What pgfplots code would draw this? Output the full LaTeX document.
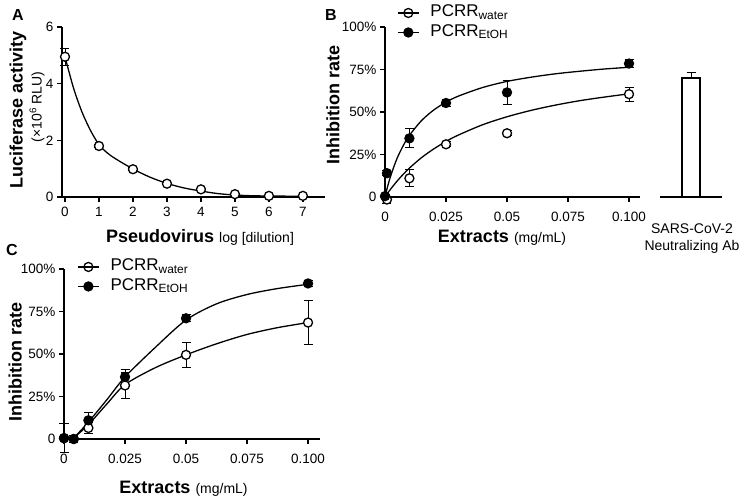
\documentclass[border=0pt]{standalone}
\usepackage{fontspec}
\setmainfont{Liberation Sans}
\usepackage{pgfplots}
\pgfplotsset{compat=1.18}
\pgfplotsset{
  prism/.style={
    scale only axis, anchor=south west,
    axis lines=left, axis line style={-, line width=1.3bp, black},
    tick align=outside, major tick length=5bp,
    every tick/.style={line width=1.3bp, black},
    tick label style={font=\fontsize{13.5bp}{16bp}\selectfont},
    /pgf/number format/assume math mode=true,
    clip=false,
    label style={font=\fontsize{18bp}{20bp}\selectfont\bfseries},
  },
  openm/.style={only marks, mark=*, mark size=4.5bp, mark options={fill=white, draw=black, line width=1.3bp}},
  fillm/.style={only marks, mark=*, mark size=4.5bp, mark options={fill=black, draw=black, line width=1.3bp}},
  ebars/.style={error bars/.cd, y dir=both, y explicit,
    error bar style={line width=0.9bp, black},
    error mark options={rotate=90, mark size=4.5bp, line width=0.9bp, black}},
  fitline/.style={black, line width=1.3bp, smooth, no marks, forget plot},
  leg/.style={legend style={draw=none, fill=none, inner sep=0pt, anchor=north west,
      font=\fontsize{17bp}{20bp}\selectfont, row sep=0pt, legend cell align=left,
      nodes={inner sep=1bp, text height=12.5bp, text depth=5bp},
      /tikz/every odd column/.append style={column sep=10bp}},
    legend image code/.code={\draw[##1] plot coordinates {(10.5bp,0bp)};
      \draw[black, line width=1.3bp] (0bp,0bp) -- (21bp,0bp);}},
}
\begin{document}
\begin{tikzpicture}
\useasboundingbox (0,0) rectangle (747bp,-500bp);
% ---------------- Panel A ----------------
\begin{axis}[prism, at={(62bp,-197bp)}, width=263bp, height=170bp,
  xmin=-0.088, xmax=7.65, ymin=0, ymax=6,
  xtick={0,1,2,3,4,5,6,7}, ytick={0,2,4,6},
  xticklabel style={yshift=-2bp},
  xlabel={Pseudovirus {\mdseries\fontsize{14bp}{16bp}\selectfont log [dilution]}},
  xlabel style={at={(axis description cs:0.525,-0.265)}, anchor=base},
  ylabel={Luciferase activity},
  ylabel style={at={(axis description cs:-0.167,0.512)}, anchor=center},
]
\addplot[fitline] coordinates {(0,4.95) (0.25,3.85) (0.5,3.0) (0.75,2.35) (1,1.85) (1.25,1.55) (1.5,1.34) (2,0.99) (2.5,0.70) (3,0.48) (3.5,0.32) (4,0.21) (4.5,0.12) (5,0.07) (5.5,0.045) (6,0.035) (6.5,0.03) (7,0.03)};
\addplot[openm, ebars] coordinates {(0,4.95) +- (0,0.3) (1,1.8) +- (0,0.05) (2,0.98) +- (0,0.05) (3,0.47) +- (0,0.03) (4,0.27) +- (0,0.03) (5,0.1) +- (0,0.02) (6,0.04) +- (0,0.01) (7,0.04) +- (0,0.01)};
\node[rotate=90, font=\fontsize{14bp}{16bp}\selectfont] at (axis description cs:-0.095,0.53) {(×10\textsuperscript{6} RLU)};
\end{axis}
% ---------------- Panel B ----------------
\begin{axis}[prism, leg, at={(385bp,-197bp)}, width=255bp, height=170bp,
  xmin=0, xmax=0.1045, ymin=0, ymax=100,
  xtick={0,0.025,0.05,0.075,0.1}, xticklabels={0,0.025,0.05,0.075,0.100},
  ytick={0,25,50,75,100}, yticklabels={0,25\%,50\%,75\%,100\%},
  xticklabel style={yshift=-7bp},
  xlabel={Extracts {\mdseries\fontsize{14bp}{16bp}\selectfont (mg/mL)}},
  xlabel style={at={(axis description cs:0.459,-0.27)}, anchor=base},
  ylabel={Inhibition rate},
  ylabel style={at={(axis description cs:-0.204,0.541)}, anchor=center},
  legend style={at={(axis description cs:0.047,1.141)}},
]
\addplot[fitline] coordinates {(0,0) (0.001,2.07) (0.0025,5) (0.005,9.44) (0.0075,13.4) (0.01,17) (0.015,23.2) (0.02,28.3) (0.025,32.7) (0.03,36.4) (0.04,42.5) (0.05,47.2) (0.06,51) (0.07,54.1) (0.08,56.7) (0.09,58.8) (0.1,60.7)};
\addplot[fitline] coordinates {(0,0) (0.001,5.8) (0.0025,13.2) (0.005,22.9) (0.0075,30.3) (0.01,36.25) (0.015,45) (0.02,51.2) (0.025,55.8) (0.03,59.3) (0.04,64.4) (0.05,68) (0.06,70.5) (0.07,72.5) (0.08,74) (0.09,75.3) (0.1,76.3)};
\addplot[openm, ebars] coordinates {(0.0008,-1.5) +- (0,2) (0.01,11) +- (0,5) (0.025,31) +- (0,1.5) (0.05,37.5) +- (0,1.5) (0.1,60.5) +- (0,4)};
\addplot[fillm, ebars] coordinates {(0,0.5) +- (0,1) (0.0008,14) +- (0,1.5) (0.01,34.5) +- (0,5.6) (0.025,55.3) +- (0,2) (0.05,61.5) +- (0,7) (0.1,78.5) +- (0,2.5)};
\legend{PCRR\textsubscript{water}, PCRR\textsubscript{EtOH}}
\end{axis}
% ---------------- Panel B bar ----------------
\begin{axis}[scale only axis, anchor=south west, at={(660bp,-197bp)}, width=62bp, height=170bp,
  xmin=0, xmax=1, ymin=0, ymax=100, clip=false,
  axis x line=bottom, axis y line=none, axis line style={-, line width=1.3bp, black},
  xtick=\empty, ytick=\empty,
  xlabel={SARS-CoV-2\\Neutralizing Ab},
  xlabel style={at={(axis description cs:0.516,-0.312)}, anchor=base, align=center,
    font=\fontsize{14bp}{17bp}\selectfont},
]
\addplot[ybar, bar width=18bp, fill=white, draw=black, line width=1.3bp,
  error bars/.cd, y dir=plus, y explicit,
  error bar style={line width=0.9bp, black},
  error mark options={rotate=90, mark size=4.5bp, line width=0.9bp, black}]
  coordinates {(0.5,70) +- (0,3)};
\end{axis}
% ---------------- Panel C ----------------
\begin{axis}[prism, leg, at={(64bp,-439bp)}, width=256bp, height=170bp,
  xmin=0, xmax=0.1049, ymin=0, ymax=100,
  xtick={0,0.025,0.05,0.075,0.1}, xticklabels={0,0.025,0.05,0.075,0.100},
  ytick={0,25,50,75,100}, yticklabels={0,25\%,50\%,75\%,100\%},
  xticklabel style={yshift=-7bp},
  xlabel={Extracts {\mdseries\fontsize{14bp}{16bp}\selectfont (mg/mL)}},
  xlabel style={at={(axis description cs:0.467,-0.318)}, anchor=base},
  ylabel={Inhibition rate},
  ylabel style={at={(axis description cs:-0.191,0.453)}, anchor=center},
  legend style={at={(axis description cs:0.051,1.0706)}},
]
\addplot[fitline] coordinates {(0,0) (0.004,1) (0.01,8.5) (0.0175,20.5) (0.025,32) (0.0375,42) (0.05,49.5) (0.0625,56) (0.075,61.5) (0.0875,65.5) (0.1,68.5)};
\addplot[fitline] coordinates {(0,0) (0.004,1) (0.01,10) (0.0175,23) (0.025,36.5) (0.0375,54) (0.05,70) (0.0625,79.5) (0.075,85) (0.0875,88.5) (0.1,91)};
\addplot[openm, ebars] coordinates {(0,0.5) +- (0,8.5) (0.004,0) +- (0,2) (0.01,6.5) +- (0,3) (0.025,31.5) +- (0,7.5) (0.05,49.5) +- (0,7.5) (0.1,68.5) +- (0,12.8)};
\addplot[fillm, ebars] coordinates {(0,0.5) +- (0,1) (0.004,0) +- (0,1) (0.01,11) +- (0,4.5) (0.025,36.5) +- (0,4.5) (0.05,71) +- (0,2) (0.1,91.5) +- (0,1.5)};
\legend{PCRR\textsubscript{water}, PCRR\textsubscript{EtOH}}
\end{axis}
% panel letters
\node[font=\fontsize{16bp}{18bp}\selectfont\bfseries] at (18bp,-15bp) {A};
\node[font=\fontsize{16bp}{18bp}\selectfont\bfseries] at (331bp,-15bp) {B};
\node[font=\fontsize{16bp}{18bp}\selectfont\bfseries] at (12bp,-250bp) {C};
\end{tikzpicture}
\end{document}
